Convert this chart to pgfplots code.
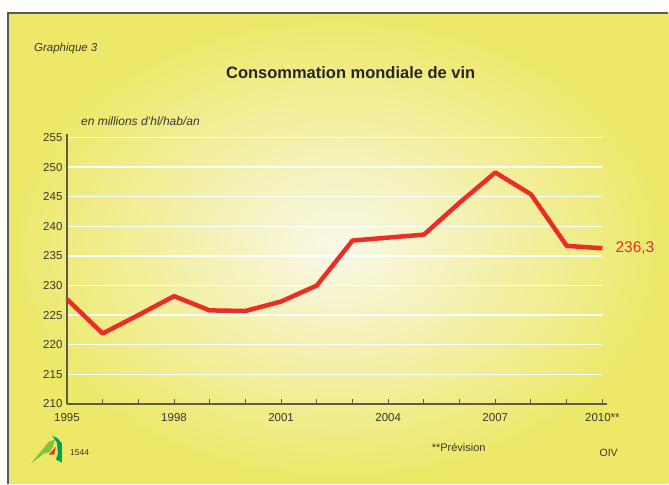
\documentclass[border=0pt]{standalone}
\usepackage{fontspec}
\setmainfont{Liberation Sans}
\usepackage{pgfplots}
\pgfplotsset{compat=1.18}
\definecolor{bgout}{RGB}{237,232,104}
\definecolor{bgin}{RGB}{249,248,232}
\definecolor{winered}{RGB}{236,45,38}
\definecolor{axgray}{RGB}{95,92,70}
\definecolor{txt}{RGB}{55,55,50}
\definecolor{lgreen}{RGB}{130,195,65}
\definecolor{dgreen}{RGB}{0,160,80}
\begin{document}
\begin{tikzpicture}[x=1pt,y=1pt]
\fill[white] (0pt,0pt) rectangle (669pt,484pt);
\shade[inner color=bgin, outer color=bgout] (8pt,0pt) rectangle (669pt,471pt);
\draw[gray!70!black, line width=1.3pt] (8pt,0pt) -- (8pt,471pt) -- (669pt,471pt);
\node[anchor=base west, text=txt, font=\itshape\fontsize{11.5}{13}\selectfont, inner sep=0] at (34pt,432pt) {Graphique 3};
\node[anchor=base, text=black!85, font=\bfseries\fontsize{16.5}{19}\selectfont, inner sep=0] at (351pt,405pt) {Consommation mondiale de vin};
\node[anchor=base west, text=txt, font=\itshape\fontsize{12}{14}\selectfont, inner sep=0] at (81pt,358pt) {en millions d'hl/hab/an};
\begin{axis}[
  at={(67pt,79.7pt)}, anchor=south west,
  scale only axis, width=536pt, height=266.6pt,
  xmin=1995, xmax=2010, ymin=210, ymax=255,
  axis x line*=bottom, axis y line*=left,
  axis line style={axgray, line width=1.3pt},
  x axis line style={shorten >=-5pt},
  y axis line style={shorten >=-4pt},
  xtick={1995,...,2010},
  xticklabels={1995,,,1998,,,2001,,,2004,,,2007,,,2010**},
  ytick={210,215,...,255},
  yticklabels={210,215,220,225,230,235,240,245,250,255},
  tick align=inside,
  xtick style={axgray, line width=1pt},
  ytick style={draw=none},
  major tick length=5pt,
  ymajorgrids,
  grid style={white, line width=1.4pt},
  tick label style={text=txt, font=\fontsize{11.5}{13}\selectfont},
  xticklabel style={yshift=-6pt},
  yticklabel style={xshift=-1pt},
  clip=false,
]
\addplot[winered, line width=4.5pt, line join=round] coordinates {
(1995,227.7) (1996,221.9) (1997,225.0) (1998,228.2) (1999,225.8) (2000,225.7)
(2001,227.3) (2002,230.0) (2003,237.6) (2004,238.1) (2005,238.6) (2006,244.0)
(2007,249.1) (2008,245.4) (2009,236.7) (2010,236.3)
};
\end{axis}
\node[anchor=base west, text=winered, font=\fontsize{15.5}{17}\selectfont, inner sep=0] at (616pt,231pt) {236,3};
\node[anchor=base west, text=txt, font=\fontsize{11}{13}\selectfont, inner sep=0] at (432pt,32pt) {**Prévision};
\node[anchor=base west, text=txt, font=\fontsize{8.5}{10}\selectfont, inner sep=0] at (70pt,28pt) {1544};
\node[anchor=base west, text=txt, font=\fontsize{10.5}{12}\selectfont, inner sep=0] at (600pt,27pt) {OIV};
% logo
\fill[lgreen] (31pt,20pt) -- (49pt,42pt) -- (55pt,44pt) -- (53pt,36pt) -- (49pt,31pt) -- (44pt,30pt) -- cycle;
\fill[dgreen] (52pt,48pt) -- (58pt,45pt) -- (62pt,40pt) -- (62pt,21pt) -- (56pt,24pt) -- (58pt,30pt) -- (57pt,41pt) -- cycle;
\fill[winered] (49pt,29pt) -- (56pt,37pt) -- (54pt,29pt) -- cycle;
\end{tikzpicture}
\end{document}
